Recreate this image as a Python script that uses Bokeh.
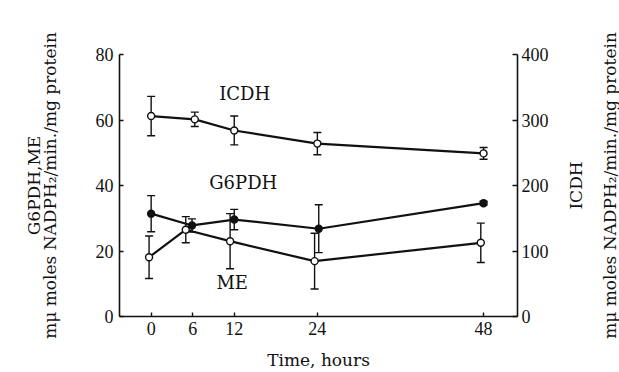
from bokeh.plotting import figure
from bokeh.layouts import row
from bokeh.models import (Range1d, LinearAxis, FixedTicker, Whisker, TeeHead,
                          ColumnDataSource)
from bokeh.core.properties import value
from bokeh.embed import file_html
from bokeh.resources import INLINE

# ---- data ----
time_ticks = [0, 6, 12, 24, 48]
left_ticks = [0, 20, 40, 60, 80]
right_ticks = [0, 100, 200, 300, 400]

icdh_x = [0, 6.3, 12, 24, 48]
icdh_y = [306, 301, 284, 264, 249]          # right axis units
icdh_err = [30, 11, 22, 17, 9]

g6pdh_x = [0, 5.9, 12, 24.2, 48]
g6pdh_y = [31.4, 27.8, 29.6, 26.8, 34.6]    # left axis units
g6pdh_err = [5.5, 2.0, 3.1, 7.3, 0.6]

me_x = [-0.3, 5.0, 11.4, 23.6, 47.6]
me_y = [18.1, 26.5, 23.0, 16.9, 22.5]       # left axis units
me_err = [6.5, 4.0, 8.4, 8.5, 6.0]

series_labels = ["ICDH", "G6PDH", "ME"]
label_x = [13.5, 13.3, 11.7]
label_y = [68.1, 40.9, 10.4]

unit_label = "m\u03bc moles NADPH\u2082/min./mg protein"

SERIF = "DejaVu Serif"
NUM = "Liberation Serif"
INK = "#111111"
LBL = "17px"

p = figure(width=553, height=372, output_backend="svg", toolbar_location=None,
           x_range=Range1d(-4.57, 52.9), y_range=Range1d(0, 80),
           min_border_left=119, min_border_right=36,
           min_border_top=54, min_border_bottom=56,
           background_fill_color="white", border_fill_color="white")
p.extra_y_ranges = {"icdh": Range1d(0, 400)}
p.outline_line_color = None
p.xgrid.visible = False
p.ygrid.visible = False


def style_axis(ax, ticks, tick_in, standoff):
    ax.ticker = FixedTicker(ticks=ticks)
    ax.major_tick_in = tick_in
    ax.major_tick_out = 0
    ax.minor_tick_in = 0
    ax.minor_tick_out = 0
    ax.axis_line_color = INK
    ax.axis_line_width = 1.6
    ax.major_tick_line_color = INK
    ax.major_tick_line_width = 1.4
    ax.major_label_text_font = NUM
    ax.major_label_text_font_size = "18px"
    ax.major_label_text_color = INK
    ax.major_label_standoff = standoff
    ax.axis_label_text_font = SERIF
    ax.axis_label_text_font_size = LBL
    ax.axis_label_text_font_style = "normal"
    ax.axis_label_text_color = INK


def label_only_axis(ax, text, standoff):
    ax.ticker = FixedTicker(ticks=[])
    ax.axis_line_color = None
    ax.major_tick_in = 0
    ax.major_tick_out = 0
    ax.minor_tick_in = 0
    ax.minor_tick_out = 0
    ax.major_label_standoff = 0
    ax.axis_label = text
    ax.axis_label_standoff = standoff
    ax.axis_label_text_font = SERIF
    ax.axis_label_text_font_size = LBL
    ax.axis_label_text_font_style = "normal"
    ax.axis_label_text_color = INK
    return ax


# bottom axis
xa = p.xaxis[0]
style_axis(xa, time_ticks, 4, 5)
xa.axis_label = "Time, hours"
xa.axis_label_standoff = 12

# left axis
ya = p.yaxis[0]
style_axis(ya, left_ticks, 4, 6)
ya.axis_label = unit_label
ya.axis_label_standoff = 33

p.add_layout(label_only_axis(LinearAxis(), "G6PDH,ME", -7), "left")

# right axis (ICDH scale, ticks only)
yr = LinearAxis(y_range_name="icdh")
style_axis(yr, right_ticks, 5, 4)
p.add_layout(yr, "right")


def add_series(xs, ys, errs, filled, range_name="default"):
    src = ColumnDataSource(dict(
        x=xs, y=ys,
        upper=[v + e for v, e in zip(ys, errs)],
        lower=[v - e for v, e in zip(ys, errs)]))
    w = Whisker(source=src, base="x", upper="upper", lower="lower",
                line_color=INK, line_width=1.4,
                upper_head=TeeHead(size=8, line_color=INK, line_width=1.4),
                lower_head=TeeHead(size=8, line_color=INK, line_width=1.4),
                y_range_name=range_name)
    p.add_layout(w)
    p.line("x", "y", source=src, line_color=INK, line_width=2.2,
           y_range_name=range_name)
    p.scatter("x", "y", source=src, size=7, line_color=INK, line_width=1.4,
              fill_color=INK if filled else "white", y_range_name=range_name)


add_series(icdh_x, icdh_y, icdh_err, False, "icdh")
add_series(me_x, me_y, me_err, False)
add_series(g6pdh_x, g6pdh_y, g6pdh_err, True)

p.text(x=label_x, y=label_y, text=series_labels, text_font=value(SERIF),
       text_font_size="18px", text_color=INK, text_align="center",
       text_baseline="middle")

# narrow strip on the right that carries the right-hand axis titles,
# reading bottom-to-top like the reference
p2 = figure(width=66, height=372, output_backend="svg", toolbar_location=None,
            x_range=Range1d(0, 1), y_range=Range1d(0, 1),
            x_axis_location=None,
            min_border_left=64, min_border_right=0,
            min_border_top=54, min_border_bottom=56,
            background_fill_color="white", border_fill_color="white")
p2.outline_line_color = None
p2.xgrid.visible = False
p2.ygrid.visible = False
label_only_axis(p2.yaxis[0], unit_label, -2)
p2.add_layout(label_only_axis(LinearAxis(), "ICDH", 11), "left")

layout = row(p, p2, spacing=0)
open("out.html", "w").write(file_html(layout, INLINE))
